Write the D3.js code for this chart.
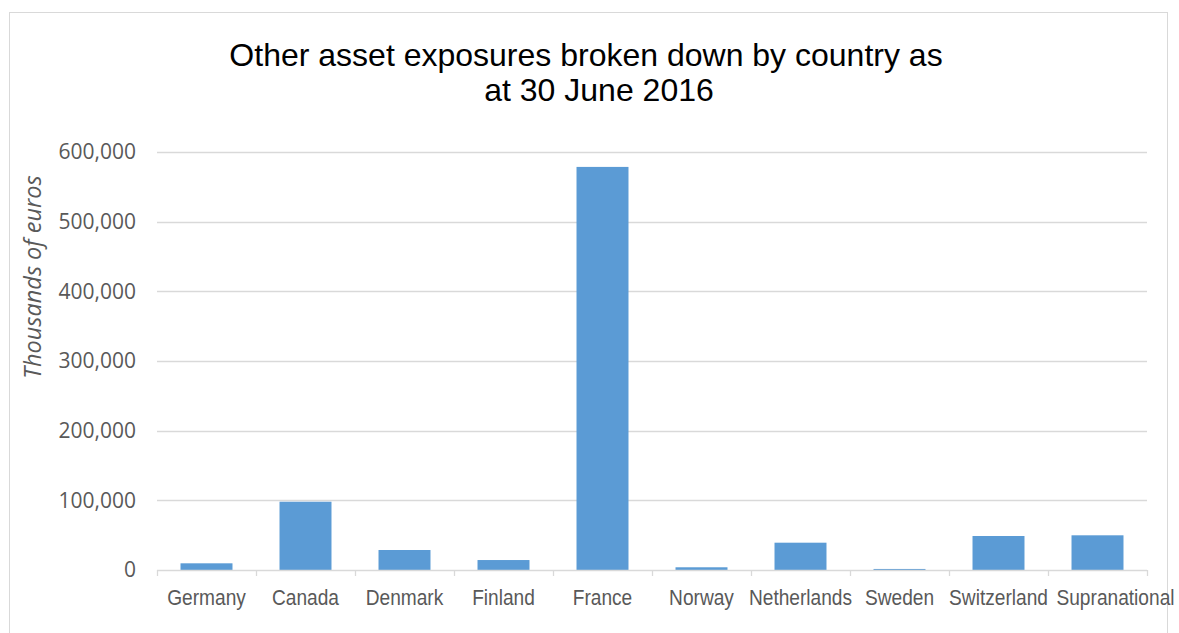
<!DOCTYPE html>
<html>
<meta charset="utf-8">
<script src="https://d3js.org/d3.v7.min.js"></script>
<style>
  body { margin: 0; background: #fff; }
</style>
<div id="chart_div"></div>
<script>

var countries = ["Germany", "Canada", "Denmark", "Finland", "France", "Norway",
                 "Netherlands", "Sweden", "Switzerland", "Supranational"];
var exposures = [9600, 98000, 28700, 14300, 578600, 3900, 39200, 1500, 48800, 49800];
var yTicks = [0, 100000, 200000, 300000, 400000, 500000, 600000];
var titleLines = ["Other asset exposures broken down by country as", "at 30 June 2016"];
var yTitle = "Thousands of euros";

var W = 1179, H = 633;
var plotLeft = 157, plotRight = 1147, plotTop = 152, plotBottom = 570;

var svg = d3.select("#chart_div")
  .append("svg")
    .attr("width", W)
    .attr("height", H);

// chart frame
svg.append("rect")
  .attr("x", 9.5).attr("y", 12.5)
  .attr("width", 1158).attr("height", 640)
  .attr("fill", "none")
  .attr("stroke", "#d9d9d9");

var x = d3.scaleBand()
  .domain(countries)
  .range([plotLeft, plotRight])
  .paddingInner(0.475)
  .paddingOuter(0.2375);

var xEdge = d3.scaleBand()
  .domain(countries)
  .range([plotLeft, plotRight]);

var y = d3.scaleLinear()
  .domain([0, 600000])
  .range([plotBottom, plotTop]);

// gridlines
svg.append("g")
  .selectAll("line")
  .data(yTicks.slice(1))
  .enter().append("line")
    .attr("x1", plotLeft).attr("x2", plotRight)
    .attr("y1", function(d) { return Math.round(y(d)) + 0.5; })
    .attr("y2", function(d) { return Math.round(y(d)) + 0.5; })
    .attr("stroke", "#d9d9d9")
    .attr("stroke-width", 1.3);

// y tick labels
svg.append("g")
  .selectAll("text")
  .data(yTicks)
  .enter().append("text")
    .attr("x", 136)
    .attr("y", function(d) { return y(d); })
    .attr("dy", "0.35em")
    .attr("text-anchor", "end")
    .attr("font-family", "'Open Sans', sans-serif")
    .attr("font-size", "21px")
    .attr("fill", "#595959")
    .text(function(d) { return d3.format(",")(d); });

// bars
svg.append("g")
  .selectAll("rect")
  .data(countries)
  .enter().append("rect")
    .attr("x", function(d) { return x(d); })
    .attr("y", function(d, i) { return y(exposures[i]); })
    .attr("width", x.bandwidth())
    .attr("height", function(d, i) { return plotBottom - y(exposures[i]); })
    .attr("fill", "#5b9bd5");

// x axis line and ticks
svg.append("line")
  .attr("x1", plotLeft).attr("x2", plotRight)
  .attr("y1", plotBottom + 0.5).attr("y2", plotBottom + 0.5)
  .attr("stroke", "#d9d9d9")
  .attr("stroke-width", 1.3);

var edges = countries.map(function(d) { return xEdge(d); }).concat([plotRight]);
svg.append("g")
  .selectAll("line")
  .data(edges)
  .enter().append("line")
    .attr("x1", function(d) { return Math.round(d) + 0.5; })
    .attr("x2", function(d) { return Math.round(d) + 0.5; })
    .attr("y1", plotBottom).attr("y2", plotBottom + 6)
    .attr("stroke", "#d9d9d9")
    .attr("stroke-width", 1.3);

// x labels (narrow, last one nudged right as Excel does to avoid overlap)
svg.append("g")
  .selectAll("text")
  .data(countries)
  .enter().append("text")
    .attr("transform", function(d, i) {
      var cx = x(d) + x.bandwidth() / 2 + (i == countries.length - 1 ? 18 : 0);
      return "translate(" + cx + ",605) scale(0.87,1)";
    })
    .attr("text-anchor", "middle")
    .attr("font-family", "'Liberation Sans', Arial, sans-serif")
    .attr("font-size", "22px")
    .attr("fill", "#595959")
    .text(function(d) { return d; });

// y axis title
svg.append("text")
  .attr("transform", "translate(41,277) rotate(-90)")
  .attr("text-anchor", "middle")
  .attr("font-family", "'Open Sans', sans-serif")
  .attr("font-style", "italic")
  .attr("font-size", "23.5px")
  .attr("fill", "#595959")
  .text(yTitle);

// title
svg.append("text")
  .attr("x", 586).attr("y", 66)
  .attr("text-anchor", "middle")
  .attr("font-family", "'Liberation Sans', Arial, sans-serif")
  .attr("font-size", "32px")
  .attr("fill", "#000")
  .text(titleLines[0]);
svg.append("text")
  .attr("x", 599).attr("y", 101)
  .attr("text-anchor", "middle")
  .attr("font-family", "'Liberation Sans', Arial, sans-serif")
  .attr("font-size", "32px")
  .attr("fill", "#000")
  .text(titleLines[1]);

</script>
</html>
